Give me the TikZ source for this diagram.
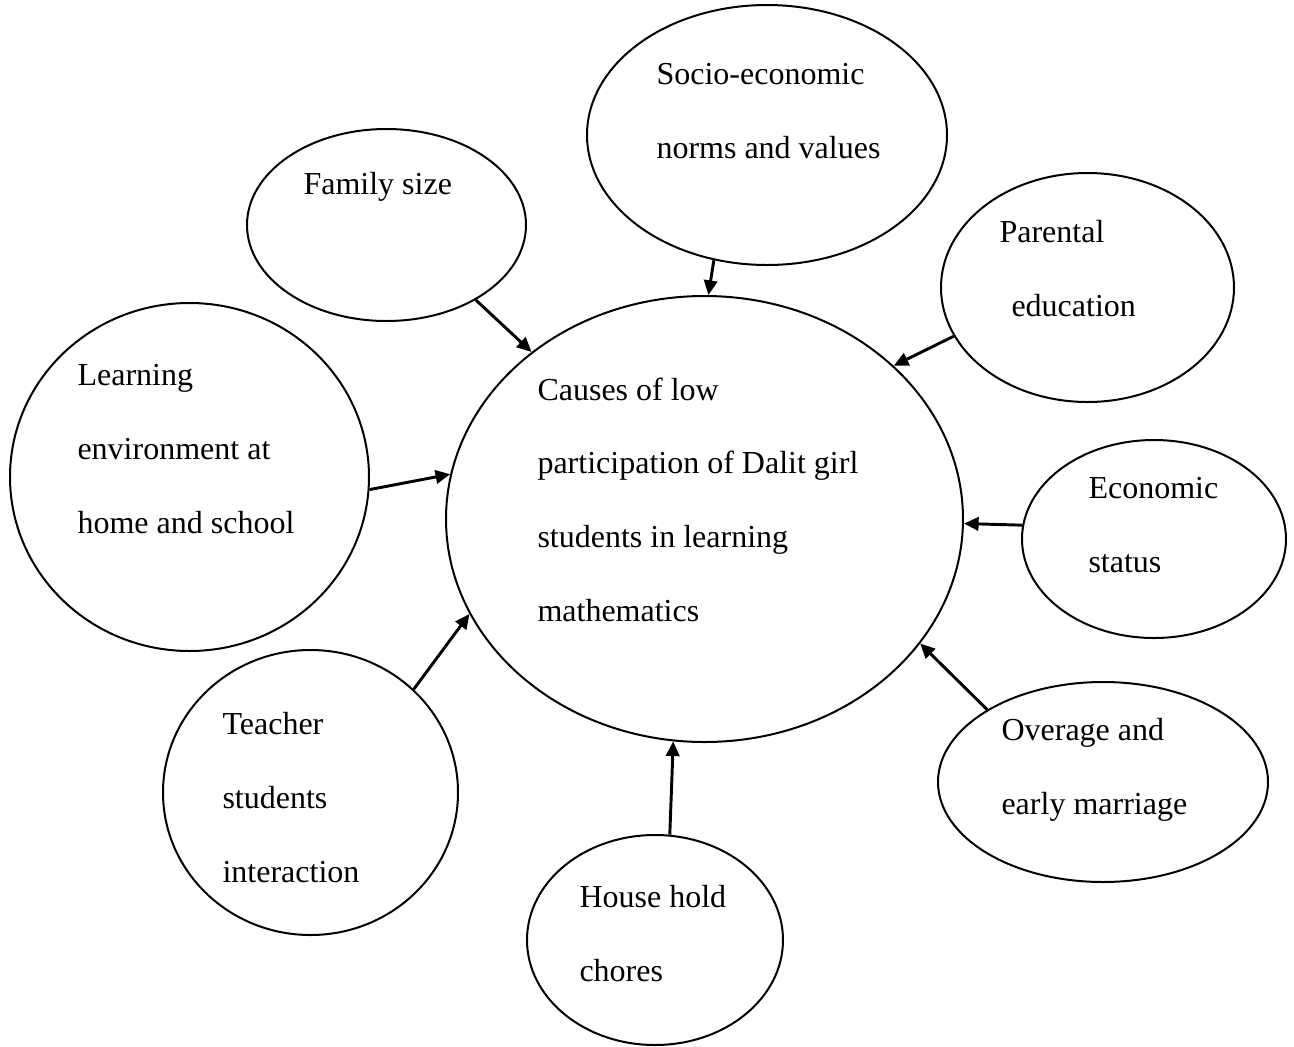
\documentclass[tikz,border=0pt]{standalone}
\usepackage{fontspec}
\setmainfont{Liberation Serif}
\usetikzlibrary{shapes.geometric,arrows.meta}

\begin{document}
\begin{tikzpicture}[
  x=0.375pt, y=-0.375pt,
  bubble/.style={draw=black, ellipse, line width=0.75pt, inner sep=0pt},
  txt/.style={anchor=base west, align=left, inner sep=0pt,
    font=\fontsize{12}{27.6}\selectfont},
  link/.style={line width=1.1pt, -{Triangle[length=5.5pt,width=5pt]}},
]
\useasboundingbox (0,0) rectangle (1294,1047);
% bubbles: name/centre x/centre y/radius x/radius y (pixels)
\foreach \n/\x/\y/\rx/\ry in {%
  cause/704.5/519/258.5/223,
  family/386.5/225/139.5/96,
  socio/767/135/180/130,
  parent/1087.5/287.5/146.5/114.5,
  learn/189.5/477/179.5/174,
  econ/1154/539/132/99,
  teach/310.5/792.5/147.5/142.5,
  overage/1103/782/165/100,
  house/655/940/128/105%
} {
  \pgfmathsetmacro{\w}{2*\rx*0.375}
  \pgfmathsetmacro{\h}{2*\ry*0.375}
  \node[bubble, minimum width=\w pt, minimum height=\h pt] (\n) at (\x,\y) {};
}
% texts, placed at the baseline of their last line
\foreach \n/\x/\y/\t in {%
  cause/537/621/{Causes of low\\participation of Dalit girl\\students in learning\\mathematics},
  family/303/194/{Family size},
  socio/656/158/{Socio-economic\\norms and values},
  parent/999/316/{Parental\\\hspace*{4.5pt}education},
  learn/77/533/{Learning\\environment at\\home and school},
  econ/1088/572/{Economic\\status},
  teach/222/882/{Teacher\\students\\interaction},
  overage/1001/814/{Overage and\\early marriage},
  house/579/981/{House hold\\chores}%
} {
  \node[txt] (\n-txt) at (\x,\y) {\t};
}
% arrows into the centre
\foreach \s/\sa/\ea in {family/-40/136, socio/-113/89, parent/-160/39,
  learn/-4/170, econ/174/-1.5, teach/45/-158, overage/148/-30, house/82/-98} {
  \draw[link] (\s.\sa) -- (cause.\ea);
}
\end{tikzpicture}
\end{document}
